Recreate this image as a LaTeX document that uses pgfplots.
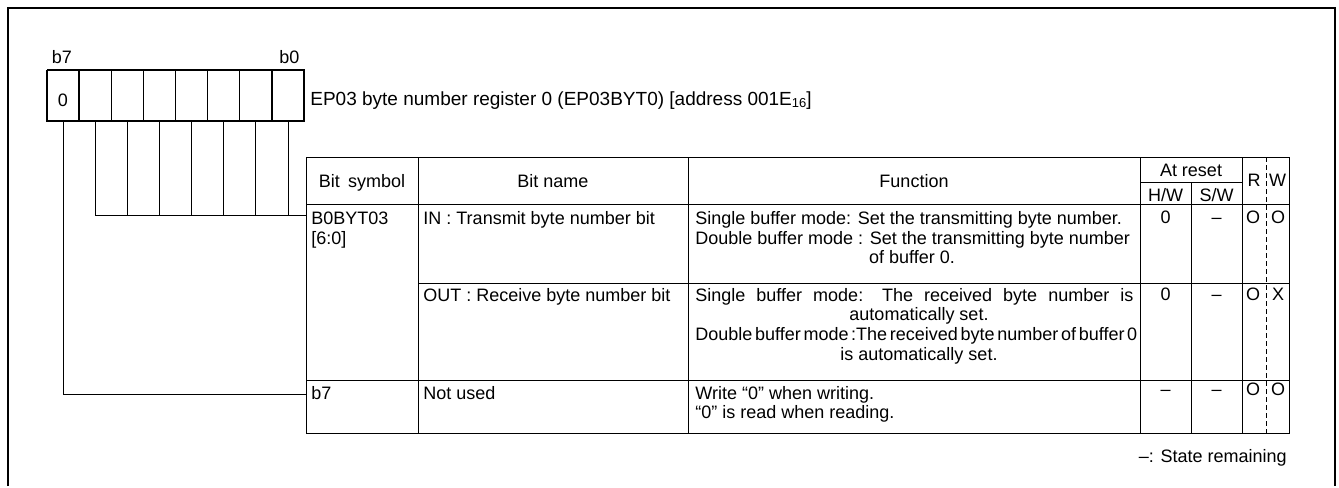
\documentclass[border=0pt]{standalone}
\usepackage{pgfplots}
\pgfplotsset{compat=1.18}
\usepackage{fontspec}
\setmainfont{Liberation Sans}
\newcommand\tf{\fontsize{9}{10}\selectfont}
\newcommand\hl[3]{\addplot[black,line width=0.5pt] coordinates {(#1,#3) (#2,#3)};}
\newcommand\vl[3]{\addplot[black,line width=0.5pt] coordinates {(#1,#2) (#1,#3)};}
\newcommand\TL[3]{\node[anchor=base west,inner sep=0pt,font=\tf] at (axis cs:#1,#2) {#3};}
\newcommand\TC[3]{\node[anchor=base,inner sep=0pt,font=\tf] at (axis cs:#1,#2) {#3};}
\begin{document}
\begin{tikzpicture}
\begin{axis}[
  width=669.5pt, height=242.5pt, scale only axis,
  xmin=0, xmax=1339, ymin=0, ymax=485, y dir=reverse,
  axis lines=none, clip=false, no markers,
  cycle list={{black,solid,line width=0.5pt}},
]
\addplot[draw=none] coordinates {(0,0) (1339,485)};
% outer frame
\addplot[black,line width=1pt] coordinates {(8,486) (8,8) (1335,8) (1335,486)};
% register box
\addplot[black,line width=0.7pt] coordinates {(47,70) (304,70) (304,121) (47,121) (47,70)};
\addplot[black,line width=0.7pt] coordinates {(79,70) (79,121)};
\addplot[black,line width=0.7pt] coordinates {(111.25,70) (111.25,121)};
\addplot[black,line width=0.7pt] coordinates {(143.4,70) (143.4,121)};
\addplot[black,line width=0.7pt] coordinates {(175.5,70) (175.5,121)};
\addplot[black,line width=0.7pt] coordinates {(207.6,70) (207.6,121)};
\addplot[black,line width=0.7pt] coordinates {(239.75,70) (239.75,121)};
\addplot[black,line width=0.7pt] coordinates {(271.9,70) (271.9,121)};
% connectors
\addplot[black,line width=0.5pt] coordinates {(63,121) (63,394) (306,394)};
\addplot[black,line width=0.5pt] coordinates {(95.2,121) (95.2,215) (306,215)};
\vl{127.3}{121}{215}
\vl{159.4}{121}{215}
\vl{191.6}{121}{215}
\vl{223.7}{121}{215}
\vl{255.8}{121}{215}
\vl{288}{121}{215}
% table
\addplot[black,line width=0.5pt] coordinates {(306,157) (1289,157) (1289,433) (306,433) (306,157)};
\hl{306}{1289}{204}
\hl{418}{1289}{283}
\hl{306}{1289}{380}
\hl{1140}{1242}{182}
\vl{418}{157}{433}
\vl{688}{157}{433}
\vl{1140}{157}{433}
\vl{1191}{182}{433}
\vl{1242}{157}{433}
\addplot[black,line width=0.5pt,dash pattern=on 2.5pt off 1.5pt] coordinates {(1266,157) (1266,433)};
% labels above register
\node[anchor=base,inner sep=0pt,font=\tf] at (axis cs:62,63) {b7};
\node[anchor=base,inner sep=0pt,font=\tf] at (axis cs:289.5,63) {b0};
\node[anchor=base,inner sep=0pt,font=\tf] at (axis cs:63,106) {0};
\node[anchor=base west,inner sep=0pt,font=\fontsize{9.5}{11}\selectfont] at (axis cs:310,105)
  {EP03 byte number register 0 (EP03BYT0) [address 001E\raisebox{-0.2ex}{\fontsize{6.5}{7}\selectfont 16}]};
% header
\TC{362}{187}{Bit\hspace{0.45em}symbol}
\TC{553}{187}{Bit name}
\TC{914}{187}{Function}
\TC{1191}{176}{At reset}
\TC{1165.5}{201.5}{H/W}
\TC{1216.5}{201.5}{S/W}
\TC{1254}{186}{R}
\TC{1277.5}{186}{W}
% row IN
\TL{311}{224.5}{B0BYT03}
\TL{311}{244}{[6:0]}
\TL{423}{224.5}{IN : Transmit byte number bit}
\TL{695}{224.5}{Single buffer mode: Set the transmitting byte number.}
\TL{695}{244}{Double buffer mode : Set the transmitting byte number}
\TC{912}{263.5}{of buffer 0.}
\TC{1165.5}{223.5}{0}
\TC{1216.5}{223.5}{--}
\TC{1253}{223.5}{O}
\TC{1278}{223.5}{O}
% row OUT
\TL{423}{301}{OUT : Receive byte number bit}
\TL{695}{301}{\makebox[219pt][s]{Single buffer mode: The received byte number is}}
\TC{919}{320.5}{automatically set.}
\TL{695}{340}{\makebox[219pt][s]{\spaceskip=0.15em plus 1em Double buffer mode :The received byte number of buffer 0}}
\TC{919}{360}{is automatically set.}
\TC{1165.5}{300}{0}
\TC{1216.5}{300}{--}
\TC{1253}{300}{O}
\TC{1278}{300}{X}
% row b7
\TL{311}{399}{b7}
\TL{423}{399}{Not used}
\TL{695}{399}{Write “0” when writing.}
\TL{695}{418}{“0” is read when reading.}
\TC{1165.5}{395}{--}
\TC{1216.5}{395}{--}
\TC{1253}{395}{O}
\TC{1278}{395}{O}
% note
\node[anchor=base east,inner sep=0pt,font=\tf] at (axis cs:1287,462) {--: State remaining};
\end{axis}
\end{tikzpicture}
\end{document}
